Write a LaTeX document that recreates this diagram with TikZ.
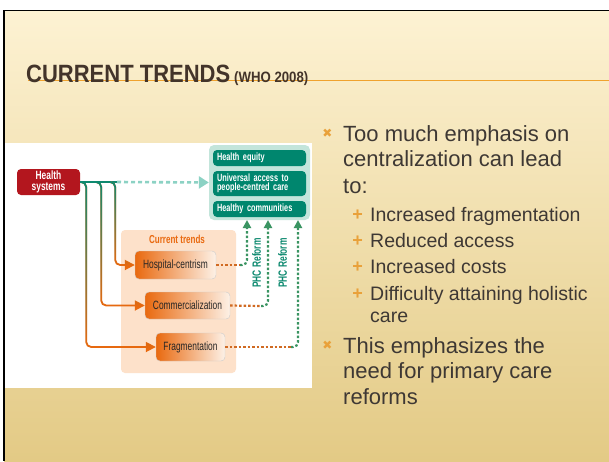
\documentclass[tikz,border=0pt]{standalone}
\usepackage{fontspec}
\setmainfont{Liberation Sans}
\newfontfamily\diafont[FakeStretch=0.7]{Liberation Sans}
\newfontfamily\titlefont[FakeStretch=0.88]{Liberation Sans}
\newfontfamily\symfont{DejaVu Sans}
\usetikzlibrary{arrows.meta,fadings}

\definecolor{slidetop}{HTML}{FDF2D3}
\definecolor{slidemid}{HTML}{F5E3AE}
\definecolor{slidebot}{HTML}{E3CA85}
\definecolor{titlebrown}{HTML}{43342A}
\definecolor{lineorange}{HTML}{F0A22E}
\definecolor{bodytext}{HTML}{3E3834}
\definecolor{bulletorange}{HTML}{E9A13A}
\definecolor{hsred}{HTML}{B3161E}
\definecolor{hsteal}{HTML}{0E8A70}
\definecolor{toparrow}{HTML}{8CD2C4}
\definecolor{grpbg}{HTML}{C3E5DB}
\definecolor{goalgreen}{HTML}{00866E}
\definecolor{trendbg}{HTML}{FDE1CA}
\definecolor{trendorange}{HTML}{E9690F}
\definecolor{trendlight}{HTML}{FDF1E6}
\definecolor{dotorange}{HTML}{D06A22}
\definecolor{reformgreen}{HTML}{3A9462}

\begin{document}
\begin{tikzpicture}[x=1pt,y=-1pt,
  hsbox/.style={fill=hsred,rounded corners=4pt,minimum width=63pt,minimum height=26pt,
    text=white,font=\diafont\fontsize{12}{11}\selectfont\bfseries,align=center,inner sep=1pt},
  goalbox/.style={fill=goalgreen,rounded corners=4pt,text width=85pt,inner xsep=4pt,inner ysep=0pt,
    text=white,font=\diafont\fontsize{10.5}{9.5}\selectfont\bfseries,align=left},
  trendbox/.style={left color=trendorange,right color=trendlight,draw=black!20,rounded corners=4pt,
    minimum height=28pt,text=black!85,font=\diafont\fontsize{12}{12}\selectfont},
  hsline/.style={draw=hsteal,line width=1.8pt},
  trendline/.style={draw=trendorange,line width=1.8pt,rounded corners=5pt,
    -{Triangle[length=10pt,width=10pt,fill=trendorange]}},
  fadeline/.style={draw=hsteal,line width=1.8pt,rounded corners=5pt,path fading=south,
    -{Triangle[length=10pt,width=10pt,fill=hsteal]}},
  topdot/.style={draw=toparrow,line width=2.6pt,dash pattern=on 4pt off 3pt,
    -{Triangle[length=10pt,width=12pt]}},
  trenddot/.style={draw=dotorange,line width=2.2pt,dash pattern=on 2.5pt off 2pt},
  reformdot/.style={draw=reformgreen,line width=2.2pt,dash pattern=on 2.5pt off 2pt,rounded corners=5pt,
    -{Triangle[length=8pt,width=8pt]}},
  phc/.style={rotate=90,text=hsteal,font=\diafont\fontsize{12}{12}\selectfont\bfseries,inner sep=0pt},
  mainline/.style={anchor=base west,inner sep=0pt,text=bodytext,font=\fontsize{22}{22}\selectfont},
  subline/.style={anchor=base west,inner sep=0pt,text=bodytext,font=\fontsize{19.5}{19.5}\selectfont},
  xmark/.style={text=bulletorange,inner sep=0pt,font=\symfont\fontsize{12}{12}\selectfont},
  plusmark/.style={text=bulletorange,inner sep=0pt,font=\fontsize{18}{18}\selectfont\bfseries}]

\useasboundingbox (0,0) rectangle (609,461);

% slide
\fill[white] (0,0) rectangle (609,461);
\shade[top color=slidetop,middle color=slidemid,bottom color=slidebot] (4,10) rectangle (609,461);
\draw[black,line width=1.5pt] (3,10.5) -- (609,10.5);
\draw[black,line width=2.5pt] (4,10) -- (4,461);

% title
\draw[lineorange,line width=1.5pt] (28,80.5) -- (609,80.5);
\node[anchor=base west,inner sep=0pt,text=titlebrown,font=\titlefont\fontsize{25}{25}\selectfont\bfseries]
  (title) at (26,82) {CURRENT TRENDS};
\node[anchor=base west,inner sep=0pt,text=titlebrown,font=\titlefont\fontsize{15}{15}\selectfont\bfseries]
  (who) at (234,82) {(WHO 2008)};

% diagram
\fill[white] (5,143) rectangle (312,388);
\node[fill=trendbg,rounded corners=4pt,minimum width=115pt,minimum height=143pt] (cur) at (178.5,301.5) {};
\node[text=trendorange,font=\diafont\fontsize{11.5}{12}\selectfont\bfseries] (curlabel) at (177,239) {Current trends};
\node[fill=grpbg,rounded corners=5pt,minimum width=101pt,minimum height=75pt] (grp) at (259.5,182.5) {};
\node[goalbox,minimum height=16pt] (equity) at (259.5,158) {Health equity};
\node[goalbox,minimum height=25pt] (access) at (259.5,183.5) {Universal access to\\people-centred care};
\node[goalbox,minimum height=16pt] (commun) at (259.5,209) {Healthy communities};

\node[hsbox] (hs) at (48.5,182) {Health\\systems};
\node[trendbox,minimum width=81pt] (hosp) at (175.5,265) {Hospital-centrism};
\node[trendbox,minimum width=85pt,minimum height=27pt] (comm) at (187.5,305.5) {Commercialization};
\node[trendbox,minimum width=69pt] (frag) at (190.5,347) {Fragmentation};

\coordinate (split) at (117,182);
\draw[hsline] (hs.east) -- (split);
\draw[topdot] (split) -- (grp.west);

\draw[trendline] (hs.east) -- ++(6,0) |- (frag.west);
\draw[trendline] (hs.east) -- ++(21,0) |- (comm.west);
\draw[trendline] (hs.east) -- ++(35,0) |- (hosp.west);
\draw[fadeline] (hs.east) -- ++(6,0) |- (frag.west);
\draw[fadeline] (hs.east) -- ++(21,0) |- (comm.west);
\draw[fadeline] (hs.east) -- ++(35,0) |- (hosp.west);

\coordinate (t1) at (240,265);
\coordinate (t2) at (261,306);
\coordinate (t3) at (291,347);
\coordinate (a1) at (247,220);
\coordinate (a2) at (268,220);
\coordinate (a3) at (298,220);
\draw[trenddot] (hosp.east) -- (t1);
\draw[trenddot] (comm.east) -- (t2);
\draw[trenddot] (frag.east) -- (t3);
\draw[reformdot] (t1) -| (a1);
\draw[reformdot] (t2) -| (a2);
\draw[reformdot] (t3) -| (a3);

\node[phc] (phc1) at (256.5,263) {PHC Reform};
\node[phc] (phc2) at (282.5,263) {PHC Reform};

% bullets
\node[xmark] (x1) at (327.5,133) {✖};
\node[mainline] (m1) at (343,141) {Too much emphasis on};
\node[mainline] (m2) at (343,166) {centralization can lead};
\node[mainline] (m3) at (343,193) {to:};
\foreach \y/\t in {221/Increased fragmentation,247/Reduced access,273/Increased costs,300/Difficulty attaining holistic,322/care}
  \node[subline] at (370,\y) {\t};
\foreach \y in {221,247,273,300}
  \node[plusmark] at (357.5,\y-6) {+};
\node[xmark] (x2) at (327.5,345) {✖};
\node[mainline] (m4) at (343,353) {This emphasizes the};
\node[mainline] (m5) at (343,378) {need for primary care};
\node[mainline] (m6) at (343,404) {reforms};

\end{tikzpicture}
\end{document}
